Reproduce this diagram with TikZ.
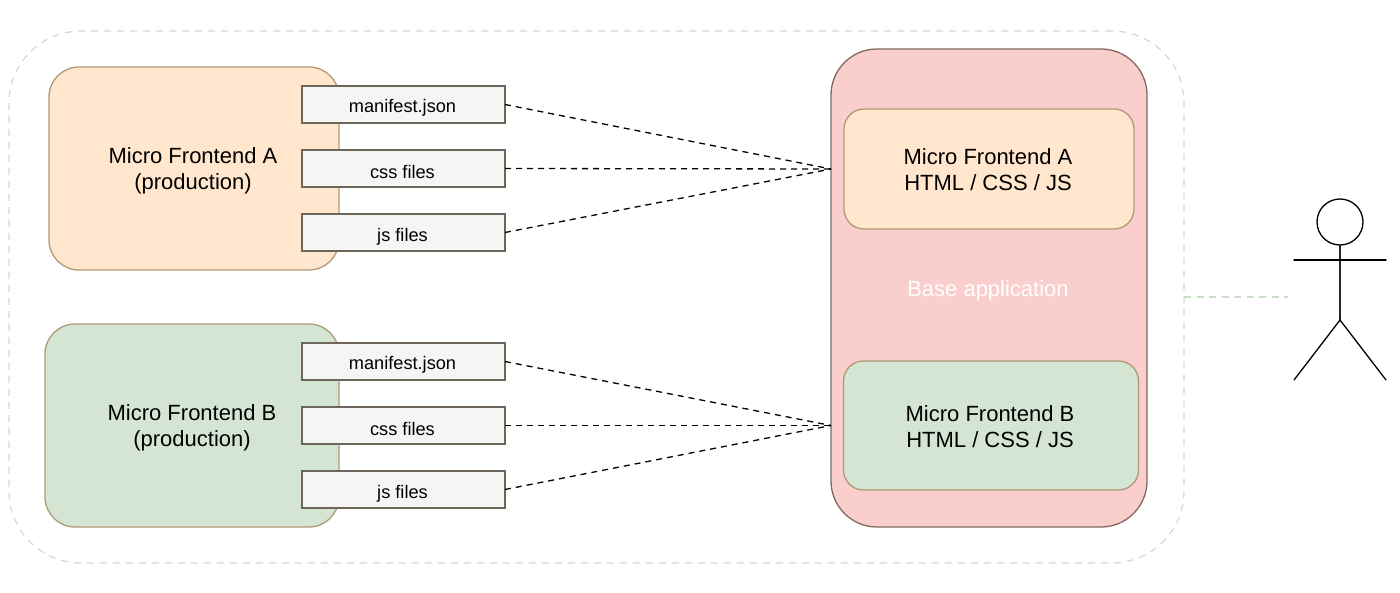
\documentclass[tikz,border=0pt]{standalone}
\usepackage{fontspec}
\setmainfont{Liberation Sans}
\definecolor{orangefill}{HTML}{FFE6CC}
\definecolor{greenfill}{HTML}{D5E5D3}
\definecolor{redfill}{HTML}{F9CECC}
\definecolor{filefill}{HTML}{F5F5F3}
\definecolor{tanline}{HTML}{B09A76}
\definecolor{brownline}{HTML}{7F6B5A}
\definecolor{fileline}{HTML}{6E665A}
\definecolor{outerline}{HTML}{CBDEC8}
\tikzset{
  box/.style={draw,rectangle,rounded corners=#1,inner sep=0pt,outer sep=0pt,align=center,font=\fontsize{22}{26}\selectfont,line width=1.3pt},
  filebox/.style={draw=fileline,fill=filefill,rectangle,inner sep=0pt,outer sep=0pt,minimum width=203pt,minimum height=37pt,line width=1.3pt},
  filetext/.style={font=\fontsize{18.2}{20}\selectfont,inner sep=0pt},
  bigtext/.style={font=\fontsize{22}{26}\selectfont,align=center,inner sep=0pt},
  link/.style={dash pattern=on 6pt off 5pt,line width=1.3pt,black},
  outerlink/.style={dash pattern=on 7pt off 5.5pt,line width=1.2pt,outerline},
  figure/.style={line width=1.3pt,black,line cap=round}
}
\begin{document}
\begin{tikzpicture}[x=1pt,y=-1pt]
\useasboundingbox (0,0) rectangle (1400,593);
\node[box=72pt,draw=outerline,dash pattern=on 7pt off 6pt,line width=1.2pt,minimum width=1175pt,minimum height=532pt] (outer) at (596.5,297) {};
\node[box=30pt,draw=tanline,fill=orangefill,minimum width=290pt,minimum height=203pt] (mfa) at (194,168.5) {};
\node[box=30pt,draw=tanline,fill=greenfill,minimum width=294pt,minimum height=203pt] (mfb) at (192,425.5) {};
\node[bigtext] (mfat) at (193,171.3) {Micro Frontend A\\(production)};
\node[bigtext] (mfbt) at (192,428.3) {Micro Frontend B\\(production)};
\node[filebox] (a1) at (403.5,104.5) {};
\node[filebox] (a2) at (403.5,168.5) {};
\node[filebox] (a3) at (403.5,232.5) {};
\node[filebox] (b1) at (403.5,361.5) {};
\node[filebox] (b2) at (403.5,425.5) {};
\node[filebox] (b3) at (403.5,489.5) {};
\node[filetext] (a1t) at (402.5,108.2) {manifest.json};
\node[filetext] (a2t) at (402.5,171.5) {css files};
\node[filetext] (a3t) at (402.5,236.3) {js files};
\node[filetext] (b1t) at (402.5,365.2) {manifest.json};
\node[filetext] (b2t) at (402.5,428.5) {css files};
\node[filetext] (b3t) at (402.5,493.3) {js files};
\node[box=46pt,draw=brownline,fill=redfill,minimum width=316pt,minimum height=478pt] (base) at (989,288) {};
\node[box=20pt,draw=tanline,fill=orangefill,minimum width=290pt,minimum height=120pt] (ia) at (989,169) {};
\node[box=20pt,draw=tanline,fill=greenfill,minimum width=295pt,minimum height=129pt] (ib) at (991,425.5) {};
\node[bigtext] (iat) at (988,170) {Micro Frontend A\\HTML / CSS / JS};
\node[bigtext] (ibt) at (990,427) {Micro Frontend B\\HTML / CSS / JS};
\node[font=\fontsize{22}{26}\selectfont,text=white,inner sep=0pt] (bt) at (988,291) {Base application};
\coordinate (ca) at (831,169);
\coordinate (cb) at (831,425.5);
\foreach \n in {a1,a2,a3} \draw[link] (\n.east) -- (ca);
\foreach \n in {b1,b2,b3} \draw[link] (\n.east) -- (cb);
\node[draw=black,circle,line width=1.3pt,minimum size=46pt,inner sep=0pt,outer sep=0pt] (head) at (1340,222) {};
\coordinate (neck) at (1340,320);
\coordinate (armL) at (1294,260);
\coordinate (armR) at (1386,260);
\coordinate (legL) at (1294,380);
\coordinate (legR) at (1386,380);
\coordinate (linkend) at (1288,297);
\draw[figure,draw=black!75!tanline] (head.south) -- (neck);
\draw[figure] (armL) -- (armR);
\draw[figure] (legL) -- (neck) -- (legR);
\draw[outerlink] (outer.east) -- (linkend);
\end{tikzpicture}
\end{document}
